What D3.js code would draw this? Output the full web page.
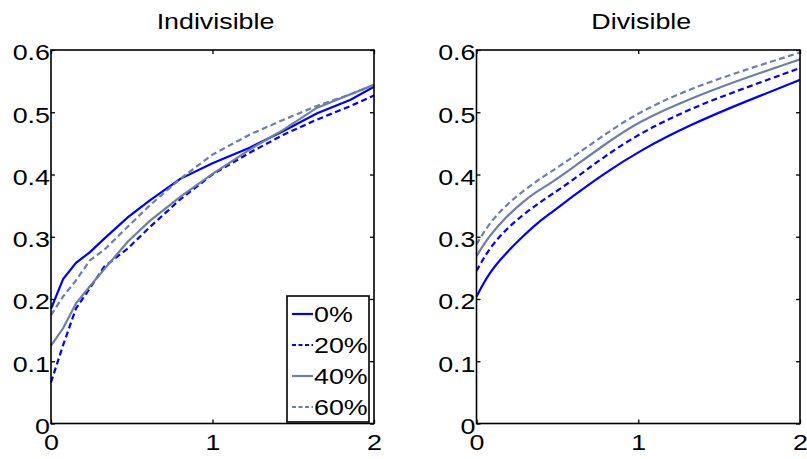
<!DOCTYPE html>
<html>
<head>
<meta charset="utf-8">
<script src="https://cdn.jsdelivr.net/npm/d3@7"></script>
<style>
  body { margin: 0; background: #fff; }
  text { font-family: "Liberation Sans", Arial, sans-serif; fill: #000; }
</style>
</head>
<body>
<div id="chart"></div>
<script>
// series labels (legend)
var levels = ["0%", "20%", "40%", "60%"];

// Indivisible panel
var xIndiv = [0, 0.075, 0.155, 0.24, 0.33, 0.475, 0.61, 0.80, 1.0, 1.23, 1.44, 1.645, 1.855, 2.0];
var indiv0  = [0.184, 0.232, 0.258, 0.275, 0.297, 0.331, 0.358, 0.393, 0.418, 0.443, 0.470, 0.498, 0.520, 0.541];
var indiv20 = [0.066, 0.126, 0.185, 0.217, 0.252, 0.281, 0.315, 0.360, 0.400, 0.435, 0.464, 0.488, 0.510, 0.527];
var indiv40 = [0.125, 0.153, 0.193, 0.220, 0.248, 0.292, 0.325, 0.364, 0.401, 0.440, 0.472, 0.507, 0.529, 0.544];
var indiv60 = [0.174, 0.204, 0.230, 0.262, 0.279, 0.316, 0.350, 0.393, 0.432, 0.464, 0.488, 0.510, 0.529, 0.544];

// Divisible panel
var xDiv = [0, 0.08, 0.18, 0.28, 0.38, 0.47, 0.58, 0.78, 1.0, 1.32, 1.66, 2.0];
var div0  = [0.204, 0.243, 0.273, 0.299, 0.323, 0.340, 0.362, 0.400, 0.437, 0.480, 0.517, 0.552];
var div20 = [0.245, 0.282, 0.311, 0.334, 0.353, 0.369, 0.388, 0.427, 0.465, 0.506, 0.539, 0.571];
var div40 = [0.269, 0.302, 0.331, 0.355, 0.374, 0.388, 0.408, 0.446, 0.485, 0.522, 0.555, 0.585];
var div60 = [0.288, 0.322, 0.350, 0.372, 0.391, 0.406, 0.425, 0.462, 0.500, 0.538, 0.568, 0.596];

// axis ticks
var xTicks = [0, 1, 2];
var yTicks = [0, 0.1, 0.2, 0.3, 0.4, 0.5, 0.6];

var blue = "#0000ff", slate = "#6a7faa";
var styles = [
    {color: blue,  dash: null},
    {color: blue,  dash: "6,3.5"},
    {color: slate, dash: null},
    {color: slate, dash: "6,3.5"}
];
var stretch = 1.22;   // the original text is drawn wide

var svg = d3.select("#chart").append("svg")
    .attr("width", 807)
    .attr("height", 459);

function drawPanel(opts) {
    var x = d3.scaleLinear().domain([0, 2]).range([opts.left, opts.right]);
    var y = d3.scaleLinear().domain([0, 0.6]).range([423.5, 50]);
    var g = svg.append("g");

    // title
    g.append("text")
        .attr("transform", "translate(" + ((opts.left + opts.right) / 2 + 3) + ",29) scale(" + stretch + ",1)")
        .attr("text-anchor", "middle")
        .style("font-size", "22px")
        .text(opts.title);

    // lines
    var line = d3.line()
        .x(function(d) { return x(d[0]); })
        .y(function(d) { return y(d[1]); })
        .curve(opts.curve);

    opts.series.forEach(function(vals, i) {
        var pts = opts.xs.map(function(v, j) { return [v, vals[j]]; });
        g.append("path")
            .datum(pts)
            .attr("fill", "none")
            .attr("stroke", styles[i].color)
            .attr("stroke-width", 2.2)
            .attr("stroke-dasharray", styles[i].dash)
            .attr("d", line);
    });

    // axes, ticks point inward
    var left = g.append("g")
        .attr("transform", "translate(" + opts.left + ",0)")
        .call(d3.axisLeft(y).tickValues(yTicks).tickSizeInner(-4).tickSizeOuter(0).tickPadding(1)
            .tickFormat(function(d) { return d === 0 ? "0" : d3.format(".1f")(d); }));
    left.selectAll("text")
        .attr("x", null).attr("dy", "0.45em")
        .attr("transform", "translate(-1,0) scale(" + stretch + ",1)");

    var bottom = g.append("g")
        .attr("transform", "translate(0,423.5)")
        .call(d3.axisBottom(x).tickValues(xTicks).tickSizeInner(-4).tickSizeOuter(0).tickPadding(10.5)
            .tickFormat(d3.format("d")));
    bottom.selectAll("text")
        .attr("transform", "scale(" + stretch + ",1)");

    g.append("g")
        .attr("transform", "translate(" + opts.right + ",0)")
        .call(d3.axisRight(y).tickValues(yTicks).tickSizeInner(-4).tickSizeOuter(0).tickFormat(""));
    g.append("g")
        .attr("transform", "translate(0,50)")
        .call(d3.axisTop(x).tickValues(xTicks).tickSizeInner(-4).tickSizeOuter(0).tickFormat(""));

    g.selectAll(".domain").remove();
    g.selectAll(".tick line").attr("stroke", "#000").attr("stroke-width", 1.3);
    g.selectAll(".tick text").style("font-size", "22px").attr("fill", "#000");

    // box
    g.append("rect")
        .attr("x", opts.left).attr("y", 50)
        .attr("width", opts.right - opts.left).attr("height", 373.5)
        .attr("fill", "none").attr("stroke", "#000").attr("stroke-width", 1.6);

    return {x: x, y: y, g: g};
}

var p1 = drawPanel({
    left: 51, right: 374, title: "Indivisible", curve: d3.curveLinear,
    xs: xIndiv, series: [indiv0, indiv20, indiv40, indiv60]
});
drawPanel({
    left: 476.5, right: 800, title: "Divisible", curve: d3.curveBasis,
    xs: xDiv, series: [div0, div20, div40, div60]
});

// legend inside the left panel
var lg = p1.g.append("g").attr("transform", "translate(287,296)");
lg.append("rect")
    .attr("width", 82).attr("height", 126)
    .attr("fill", "#fff").attr("stroke", "#000").attr("stroke-width", 1.6);

levels.forEach(function(name, i) {
    var cy = 18 + i * 31;
    lg.append("line")
        .attr("x1", 5).attr("x2", 26).attr("y1", cy).attr("y2", cy)
        .attr("stroke", styles[i].color)
        .attr("stroke-width", 2.2)
        .attr("stroke-dasharray", styles[i].dash ? "4,2.5" : null);
    lg.append("text")
        .attr("transform", "translate(27," + (cy + 8) + ") scale(" + stretch + ",1)")
        .style("font-size", "22px")
        .text(name);
});
</script>
</body>
</html>
